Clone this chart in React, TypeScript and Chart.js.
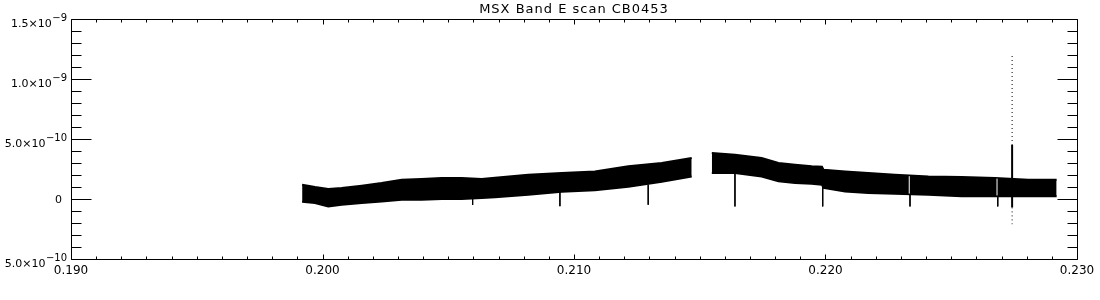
import React, { useEffect, useRef } from "react";
import { Chart, registerables } from "chart.js";

Chart.register(...registerables);

const TITLE = "MSX Band E scan CB0453";

const xTickValues = [0.19, 0.2, 0.21, 0.22, 0.23];
const xTickLabels = ["0.190", "0.200", "0.210", "0.220", "0.230"];
const yTickValues = [-5e-10, 0, 5e-10, 1e-9, 1.5e-9];
const yTickBase = ["5.0×10", "0", "5.0×10", "1.0×10", "1.5×10"];
const yTickExp = ["−10", "", "−10", "−9", "−9"];
const xMinorStep = 0.001;
const yMinorStep = 1e-10;

// First scan segment: upper / lower envelope of the dense noise band
const seg1X = [0.19919, 0.1997, 0.20023, 0.20076, 0.20156, 0.20235, 0.20315, 0.20394, 0.20474, 0.20553, 0.20633, 0.20686, 0.20818, 0.20951, 0.21083, 0.21216, 0.21349, 0.21468];
const seg1Top = [1.19e-10, 1.0e-10, 0.83e-10, 0.92e-10, 1.11e-10, 1.33e-10, 1.61e-10, 1.67e-10, 1.75e-10, 1.75e-10, 1.67e-10, 1.78e-10, 2.03e-10, 2.17e-10, 2.3e-10, 2.72e-10, 3.0e-10, 3.42e-10];
const seg1Bottom = [-0.22e-10, -0.33e-10, -0.62e-10, -0.48e-10, -0.33e-10, -0.2e-10, -0.06e-10, -0.06e-10, 0.0, 0.0, 0.08e-10, 0.15e-10, 0.36e-10, 0.61e-10, 0.73e-10, 1.03e-10, 1.44e-10, 1.88e-10];

// Second scan segment
const seg2X = [0.21548, 0.2164, 0.21746, 0.21813, 0.21879, 0.21945, 0.21986, 0.21992, 0.22078, 0.2217, 0.22276, 0.22409, 0.22541, 0.22674, 0.22806, 0.22919];
const seg2Top = [3.83e-10, 3.69e-10, 3.42e-10, 3.0e-10, 2.86e-10, 2.72e-10, 2.69e-10, 2.44e-10, 2.3e-10, 2.17e-10, 2.03e-10, 1.88e-10, 1.83e-10, 1.75e-10, 1.61e-10, 1.61e-10];
const seg2Bottom = [2.17e-10, 2.17e-10, 1.88e-10, 1.47e-10, 1.33e-10, 1.28e-10, 1.19e-10, 0.92e-10, 0.63e-10, 0.5e-10, 0.44e-10, 0.36e-10, 0.22e-10, 0.22e-10, 0.22e-10, 0.22e-10];

// Narrow downward glitches
const spikeX = [0.20597, 0.20944, 0.21295, 0.2164, 0.21989, 0.22336, 0.22685];
const spikeFrom = [0.0, 0.6e-10, 1.2e-10, 2.17e-10, 1.0e-10, 0.4e-10, 0.22e-10];
const spikeLow = [-0.5e-10, -0.6e-10, -0.48e-10, -0.62e-10, -0.62e-10, -0.62e-10, -0.62e-10];

// Data drop-outs seen as thin white lines through the band
const dropX = [0.22333, 0.22682];
const dropLow = [0.45e-10, 0.3e-10];
const dropHigh = [1.9e-10, 1.7e-10];

// Strong source near 0.2274
const bigSpikeX = 0.22742;
const bigSpikeSolid = [-0.7e-10, 4.5e-10];
const bigSpikeDottedLow = [-0.7e-10, -2.1e-10];
const bigSpikeDottedHigh = [4.5e-10, 12.0e-10];

const pts = (xs: number[], ys: number[]) => xs.map((x, i) => ({ x, y: ys[i] }));
const verticals = (xs: number[], a: number[], b: number[]) =>
  xs.flatMap((x, i) => [
    { x, y: a[i] },
    { x, y: b[i] },
    { x, y: null },
  ]);

const idlFrame = {
  id: "idlFrame",
  afterDraw(chart: any) {
    const { ctx, chartArea: a, scales } = chart;
    const xs = scales.x;
    const ys = scales.y;
    ctx.save();
    ctx.strokeStyle = "#000";
    ctx.lineWidth = 1;
    const L = Math.round(a.left) + 0.5;
    const R = Math.round(a.right) + 0.5;
    const T = Math.round(a.top) + 0.5;
    const B = Math.round(a.bottom) + 0.5;
    ctx.beginPath();
    ctx.rect(L, T, R - L, B - T);
    const nx = Math.round((xs.max - xs.min) / xMinorStep);
    for (let i = 0; i <= nx; i++) {
      const v = xs.min + i * xMinorStep;
      const px = Math.round(xs.getPixelForValue(v)) + 0.5;
      const len = i % 10 === 0 ? 5 : 3;
      ctx.moveTo(px, B);
      ctx.lineTo(px, B - len);
      ctx.moveTo(px, T);
      ctx.lineTo(px, T + len);
    }
    const ny = Math.round((ys.max - ys.min) / yMinorStep);
    for (let i = 0; i <= ny; i++) {
      const v = ys.min + i * yMinorStep;
      const py = Math.round(ys.getPixelForValue(v)) + 0.5;
      const len = i % 5 === 0 ? 20 : 10;
      ctx.moveTo(L, py);
      ctx.lineTo(L + len, py);
      ctx.moveTo(R, py);
      ctx.lineTo(R - len, py);
    }
    ctx.stroke();

    // y tick labels with raised exponents
    ctx.fillStyle = "#000";
    ctx.textAlign = "right";
    ctx.textBaseline = "alphabetic";
    const labelRight = a.left - 4;
    yTickValues.forEach((v, i) => {
      const py = ys.getPixelForValue(v);
      if (!yTickExp[i]) {
        ctx.font = "11px 'DejaVu Sans'";
        ctx.fillText(yTickBase[i], labelRight - 5, py + 4);
        return;
      }
      ctx.font = "10px 'DejaVu Sans'";
      const ew = ctx.measureText(yTickExp[i]).width;
      ctx.fillText(yTickExp[i], labelRight, py + 2);
      ctx.font = "11px 'DejaVu Sans'";
      ctx.fillText(yTickBase[i], labelRight - ew - 0.5, py + 8);
    });

    ctx.font = "13px 'DejaVu Sans'";
    (ctx as any).letterSpacing = "1px";
    ctx.textAlign = "center";
    ctx.textBaseline = "middle";
    ctx.fillText(TITLE, (a.left + a.right) / 2, 10);
    ctx.restore();
  },
};

export default function App() {
  const ref = useRef<HTMLCanvasElement | null>(null);
  useEffect(() => {
    document.body.style.margin = "0";
    const canvas = ref.current;
    if (!canvas) return;
    const black = "#000";
    const line = { borderColor: black, borderWidth: 1, pointRadius: 0, tension: 0 };
    const band = { ...line, borderWidth: 2, order: 10 };
    const chart = new Chart(canvas, {
      type: "line",
      data: {
        datasets: [
          { ...band, data: pts(seg1X, seg1Bottom), fill: false } as any,
          { ...band, data: pts(seg1X, seg1Top), fill: "-1", backgroundColor: black } as any,
          { ...band, data: pts(seg2X, seg2Bottom), fill: false } as any,
          { ...band, data: pts(seg2X, seg2Top), fill: "-1", backgroundColor: black } as any,
          { ...line, order: 5, borderColor: "#fff", fill: false, spanGaps: false, data: verticals(dropX, dropLow, dropHigh) } as any,
          { ...line, order: 1, fill: false, spanGaps: false, data: verticals(spikeX, spikeFrom, spikeLow) } as any,
          {
            ...line,
            order: 1,
            borderWidth: 2,
            fill: false,
            data: bigSpikeSolid.map((y) => ({ x: bigSpikeX, y })),
          } as any,
          {
            ...line,
            order: 1,
            borderDash: [1, 3],
            fill: false,
            spanGaps: false,
            data: [
              ...bigSpikeDottedLow.map((y) => ({ x: bigSpikeX, y })),
              { x: bigSpikeX, y: null },
              ...bigSpikeDottedHigh.map((y) => ({ x: bigSpikeX, y })),
            ],
          } as any,
        ],
      },
      options: {
        responsive: false,
        animation: false,
        layout: { padding: { top: 19, right: 23, left: 0, bottom: 0 } },
        plugins: { legend: { display: false }, tooltip: { enabled: false }, title: { display: false } },
        scales: {
          x: {
            type: "linear",
            min: 0.19,
            max: 0.23,
            grid: { display: false, drawTicks: false },
            border: { display: false },
            afterBuildTicks: (s: any) => {
              s.ticks = xTickValues.map((value) => ({ value }));
            },
            afterFit: (s: any) => {
              s.height = 41;
            },
            ticks: {
              autoSkip: false,
              maxRotation: 0,
              padding: 5,
              color: black,
              font: { family: "'DejaVu Sans'", size: 12 },
              callback: (_v: any, i: number) => xTickLabels[i],
            },
          },
          y: {
            type: "linear",
            min: -5e-10,
            max: 1.5e-9,
            grid: { display: false, drawTicks: false },
            border: { display: false },
            afterBuildTicks: (s: any) => {
              s.ticks = yTickValues.map((value) => ({ value }));
            },
            afterFit: (s: any) => {
              s.width = 71;
            },
            ticks: { display: false },
          },
        },
      },
      plugins: [idlFrame],
    });
    return () => chart.destroy();
  }, []);
  return (
    <div style={{ width: 1100, height: 300, background: "#fff" }}>
      <canvas ref={ref} width={1100} height={300} style={{ display: "block" }} />
    </div>
  );
}
